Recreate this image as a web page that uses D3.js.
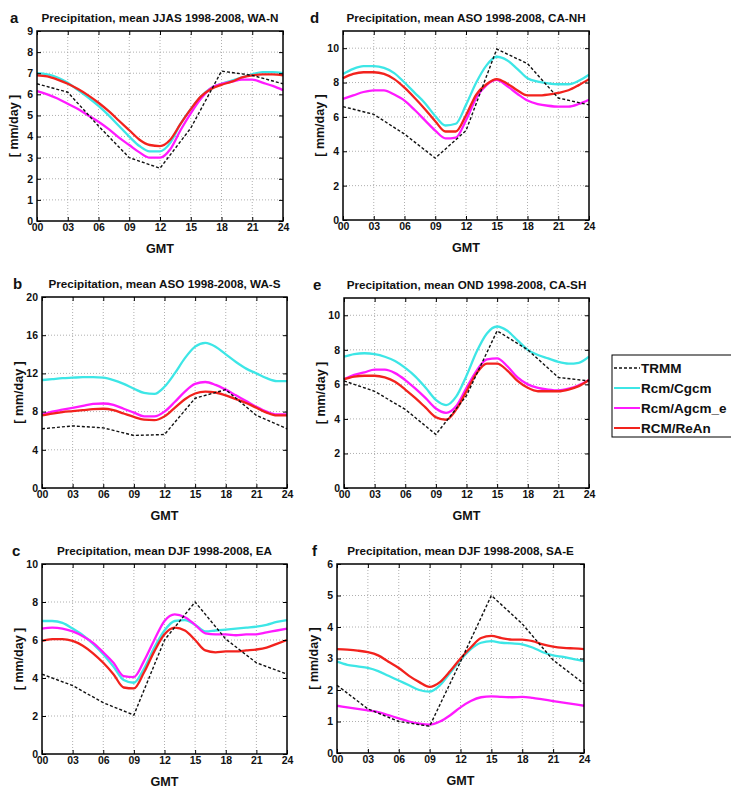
<!DOCTYPE html>
<html>
<head>
<meta charset="utf-8">
<script src="https://cdn.jsdelivr.net/npm/d3@7"></script>
<style>
	body { margin: 0; background: #fff; }
	text { font-family: "Liberation Sans", Arial, sans-serif; font-weight: bold; fill: #111; }
	.grid line { stroke: #9a9a9a; stroke-width: 0.8; stroke-dasharray: 1,2; }
	.axis path { display: none; }
	.axis line { stroke: #000; }
</style>
</head>
<body>
<svg id="chart"></svg>
<script>
// hours of the model output and of the 3-hourly TRMM
var hours = [0, 1, 2, 3, 4, 5, 6, 7, 8, 9, 10, 11, 12, 13, 14, 15, 16, 17, 18, 19, 20, 21, 22, 23, 24];
var trmmHours = [0, 3, 6, 9, 12, 15, 18, 21, 24];
var xTicks = [0, 3, 6, 9, 12, 15, 18, 21, 24];
var seriesNames = ["TRMM", "Rcm/Cgcm", "Rcm/Agcm_e", "RCM/ReAn"];

// a: JJAS, WA-N
var aTrmm = [6.5, 6.1, 4.5, 3.0, 2.5, 4.4, 7.1, 6.9, 6.5];
var aCgcm = [7.0, 6.95, 6.8, 6.55, 6.2, 5.85, 5.45, 5.0, 4.5, 4.0, 3.55, 3.3, 3.3, 3.7, 4.6, 5.3, 5.9, 6.3, 6.5, 6.65, 6.8, 6.95, 7.05, 7.05, 7.0];
var aAgcm = [6.15, 6.0, 5.8, 5.55, 5.3, 5.0, 4.7, 4.35, 3.95, 3.6, 3.25, 3.0, 3.0, 3.4, 4.3, 5.1, 5.8, 6.3, 6.5, 6.6, 6.7, 6.7, 6.55, 6.4, 6.2];
var aReAn = [6.9, 6.85, 6.7, 6.5, 6.25, 5.95, 5.6, 5.2, 4.75, 4.3, 3.85, 3.6, 3.55, 3.85, 4.6, 5.3, 5.9, 6.25, 6.45, 6.6, 6.8, 6.9, 6.95, 6.95, 6.9];

// b: ASO, WA-S
var bTrmm = [6.2, 6.5, 6.3, 5.5, 5.6, 9.4, 10.3, 7.6, 6.2];
var bCgcm = [11.3, 11.4, 11.5, 11.55, 11.6, 11.6, 11.55, 11.3, 10.9, 10.4, 9.95, 9.85, 10.6, 12.0, 13.6, 14.8, 15.2, 14.8, 14.0, 13.2, 12.5, 12.0, 11.5, 11.2, 11.2];
var bAgcm = [7.7, 8.0, 8.2, 8.4, 8.6, 8.8, 8.85, 8.7, 8.3, 7.9, 7.5, 7.5, 8.0, 9.0, 10.1, 10.9, 11.1, 10.8, 10.3, 9.7, 9.1, 8.5, 8.0, 7.7, 7.7];
var bReAn = [7.6, 7.8, 7.95, 8.05, 8.15, 8.25, 8.3, 8.15, 7.8, 7.45, 7.15, 7.1, 7.5, 8.4, 9.3, 9.9, 10.1, 10.0, 9.7, 9.3, 8.9, 8.4, 7.9, 7.6, 7.6];

// c: DJF, EA
var cTrmm = [4.2, 3.6, 2.7, 2.05, 6.0, 8.0, 6.05, 4.8, 4.2];
var cCgcm = [7.0, 7.0, 6.9, 6.6, 6.25, 5.8, 5.25, 4.6, 3.9, 3.75, 4.5, 5.6, 6.5, 7.0, 7.05, 6.8, 6.45, 6.5, 6.55, 6.6, 6.65, 6.7, 6.8, 6.95, 7.05];
var cAgcm = [6.6, 6.65, 6.6, 6.45, 6.2, 5.85, 5.35, 4.8, 4.1, 4.05, 4.9, 6.0, 7.0, 7.35, 7.2, 6.8, 6.35, 6.3, 6.3, 6.25, 6.3, 6.3, 6.4, 6.5, 6.6];
var cReAn = [5.95, 6.05, 6.05, 5.95, 5.7, 5.3, 4.8, 4.2, 3.5, 3.45, 4.3, 5.4, 6.3, 6.65, 6.5, 6.0, 5.45, 5.35, 5.4, 5.4, 5.45, 5.5, 5.6, 5.8, 6.0];

// d: ASO, CA-NH
var dTrmm = [6.6, 6.15, 5.0, 3.6, 5.2, 9.95, 9.1, 7.1, 6.7];
var dCgcm = [8.5, 8.8, 8.95, 8.95, 8.85, 8.55, 8.0, 7.4, 6.8, 6.05, 5.5, 5.6, 6.7, 8.0, 9.0, 9.5, 9.3, 8.8, 8.25, 8.05, 7.95, 7.9, 7.9, 8.1, 8.45];
var dAgcm = [7.05, 7.25, 7.45, 7.55, 7.55, 7.3, 6.95, 6.4, 5.8, 5.2, 4.75, 4.8, 5.8, 7.1, 7.85, 8.15, 7.8, 7.35, 6.95, 6.75, 6.65, 6.6, 6.6, 6.75, 7.0];
var dReAn = [8.25, 8.5, 8.6, 8.6, 8.5, 8.2, 7.7, 7.1, 6.45, 5.75, 5.15, 5.15, 6.1, 7.3, 7.9, 8.2, 7.95, 7.55, 7.25, 7.25, 7.3, 7.4, 7.55, 7.85, 8.2];

// e: OND, CA-SH
var eTrmm = [6.2, 5.6, 4.55, 3.1, 5.35, 9.1, 8.0, 6.4, 6.2];
var eCgcm = [7.6, 7.75, 7.8, 7.75, 7.6, 7.35, 6.95, 6.45, 5.8, 5.1, 4.8, 5.3, 6.5, 7.9, 8.95, 9.35, 9.1, 8.55, 8.0, 7.7, 7.5, 7.3, 7.2, 7.25, 7.6];
var eAgcm = [6.3, 6.55, 6.7, 6.85, 6.85, 6.65, 6.25, 5.75, 5.2, 4.6, 4.35, 4.75, 5.8, 6.8, 7.45, 7.5, 7.05, 6.4, 6.0, 5.8, 5.7, 5.65, 5.75, 5.95, 6.25];
var eReAn = [6.3, 6.45, 6.5, 6.5, 6.4, 6.15, 5.7, 5.2, 4.65, 4.1, 3.95, 4.55, 5.6, 6.65, 7.2, 7.2, 6.8, 6.2, 5.8, 5.6, 5.6, 5.6, 5.7, 5.9, 6.25];

// f: DJF, SA-E
var fTrmm = [2.15, 1.4, 1.0, 0.85, 2.9, 5.0, 4.1, 2.95, 2.2];
var fCgcm = [2.9, 2.8, 2.75, 2.7, 2.6, 2.45, 2.3, 2.15, 2.0, 1.95, 2.15, 2.55, 2.95, 3.3, 3.5, 3.55, 3.5, 3.48, 3.45, 3.35, 3.2, 3.1, 3.05, 2.98, 2.92];
var fAgcm = [1.5, 1.45, 1.4, 1.35, 1.3, 1.2, 1.1, 1.0, 0.93, 0.9, 1.0, 1.2, 1.45, 1.65, 1.77, 1.8, 1.78, 1.77, 1.78, 1.75, 1.7, 1.65, 1.6, 1.55, 1.5];
var fReAn = [3.3, 3.28, 3.25, 3.2, 3.1, 2.9, 2.7, 2.45, 2.25, 2.1, 2.25, 2.6, 3.0, 3.35, 3.65, 3.72, 3.65, 3.6, 3.6, 3.55, 3.45, 3.38, 3.34, 3.32, 3.3];

var colors = {"TRMM": "#111", "Rcm/Cgcm": "#3de6e6", "Rcm/Agcm_e": "#ff1aff", "RCM/ReAn": "#f2221d"};

// panel layout: plot box in page pixels, lx = x of the panel letter
var panels = [
	{letter: "a", lx: 10, title: "Precipitation, mean JJAS 1998-2008, WA-N", box: {l: 37, t: 31, r: 283, b: 221}, yMax: 9, yTicks: [0, 1, 2, 3, 4, 5, 6, 7, 8, 9], trmm: aTrmm, models: [aCgcm, aAgcm, aReAn]},
	{letter: "b", lx: 13, title: "Precipitation, mean ASO 1998-2008, WA-S", box: {l: 42, t: 297, r: 287, b: 488}, yMax: 20, yTicks: [0, 4, 8, 12, 16, 20], trmm: bTrmm, models: [bCgcm, bAgcm, bReAn]},
	{letter: "c", lx: 12, title: "Precipitation, mean DJF 1998-2008, EA", box: {l: 42, t: 564, r: 287, b: 754}, yMax: 10, yTicks: [0, 2, 4, 6, 8, 10], trmm: cTrmm, models: [cCgcm, cAgcm, cReAn]},
	{letter: "d", lx: 310, title: "Precipitation, mean ASO 1998-2008, CA-NH", box: {l: 343, t: 31, r: 589, b: 220}, yMax: 11, yTicks: [0, 2, 4, 6, 8, 10], trmm: dTrmm, models: [dCgcm, dAgcm, dReAn]},
	{letter: "e", lx: 313, title: "Precipitation, mean OND 1998-2008, CA-SH", box: {l: 344, t: 298, r: 589, b: 488}, yMax: 11, yTicks: [0, 2, 4, 6, 8, 10], trmm: eTrmm, models: [eCgcm, eAgcm, eReAn]},
	{letter: "f", lx: 312, title: "Precipitation, mean DJF 1998-2008, SA-E", box: {l: 337, t: 564, r: 584, b: 753}, yMax: 6, yTicks: [0, 1, 2, 3, 4, 5, 6], trmm: fTrmm, models: [fCgcm, fAgcm, fReAn]}
];

var svg = d3.select("svg#chart")
		.attr("width", 731)
		.attr("height", 789);

function drawPanel(p) {
	var box = p.box;
	var x = d3.scaleLinear().domain([0, 24]).range([box.l, box.r]);
	var y = d3.scaleLinear().domain([0, p.yMax]).range([box.b, box.t]);
	var g = svg.append("g").attr("class", "panel-" + p.letter);

	// dotted grid
	var grid = g.append("g").attr("class", "grid");
	grid.selectAll(".gx")
			.data(xTicks.slice(1, -1))
			.enter().append("line")
			.attr("x1", function (d) { return x(d); })
			.attr("x2", function (d) { return x(d); })
			.attr("y1", box.t)
			.attr("y2", box.b);
	grid.selectAll(".gy")
			.data(p.yTicks.filter(function (d) { return d > 0 && d < p.yMax; }))
			.enter().append("line")
			.attr("x1", box.l)
			.attr("x2", box.r)
			.attr("y1", function (d) { return y(d); })
			.attr("y2", function (d) { return y(d); });

	// model curves
	var modelLine = d3.line()
			.x(function (d, i) { return x(hours[i]); })
			.y(function (d) { return y(d); })
			.curve(d3.curveMonotoneX);
	[0, 1, 2].forEach(function (k) {
		g.append("path")
				.attr("d", modelLine(p.models[k]))
				.attr("fill", "none")
				.attr("stroke", colors[seriesNames[k + 1]])
				.attr("stroke-width", 2.3)
				.attr("stroke-linejoin", "round");
	});

	var trmmLine = d3.line()
			.x(function (d, i) { return x(trmmHours[i]); })
			.y(function (d) { return y(d); });
	g.append("path")
			.attr("d", trmmLine(p.trmm))
			.attr("fill", "none")
			.attr("stroke", colors["TRMM"])
			.attr("stroke-width", 1.4)
			.attr("stroke-dasharray", "3,2");

	// axes, ticks inward (matlab style)
	var xAxis = d3.axisBottom(x).tickValues(xTicks).tickFormat(d3.format("02d"))
			.tickSizeInner(-4).tickSizeOuter(0).tickPadding(3);
	var gx = g.append("g").attr("class", "axis")
			.attr("transform", "translate(0," + box.b + ")")
			.call(xAxis);
	gx.selectAll("text").style("font-size", "10.5px").attr("fill", "#111");

	g.append("g").attr("class", "axis")
			.attr("transform", "translate(0," + box.t + ")")
			.call(d3.axisTop(x).tickValues(xTicks).tickSizeInner(-4).tickSizeOuter(0).tickFormat(""));

	var yAxis = d3.axisLeft(y).tickValues(p.yTicks).tickFormat(d3.format("d"))
			.tickSizeInner(-4).tickSizeOuter(0).tickPadding(4);
	var gy = g.append("g").attr("class", "axis")
			.attr("transform", "translate(" + box.l + ",0)")
			.call(yAxis);
	gy.selectAll("text").style("font-size", "10.5px").attr("fill", "#111");

	g.append("g").attr("class", "axis")
			.attr("transform", "translate(" + box.r + ",0)")
			.call(d3.axisRight(y).tickValues(p.yTicks).tickSizeInner(-4).tickSizeOuter(0).tickFormat(""));

	g.append("rect")
			.attr("x", box.l)
			.attr("y", box.t)
			.attr("width", box.r - box.l)
			.attr("height", box.b - box.t)
			.attr("fill", "none")
			.attr("stroke", "#000")
			.attr("stroke-width", 1.5);

	// titles and labels
	g.append("text")
			.attr("x", (box.l + box.r) / 2)
			.attr("y", box.t - 9)
			.attr("text-anchor", "middle")
			.style("font-size", "11.7px")
			.text(p.title);
	g.append("text")
			.attr("x", p.lx)
			.attr("y", box.t - 8)
			.style("font-size", "15px")
			.text(p.letter);
	g.append("text")
			.attr("x", (box.l + box.r) / 2)
			.attr("y", box.b + 32)
			.attr("text-anchor", "middle")
			.style("font-size", "12.6px")
			.text("GMT");
	g.append("text")
			.attr("transform", "translate(" + (box.l - 19) + "," + ((box.t + box.b) / 2) + ")rotate(-90)")
			.attr("text-anchor", "middle")
			.style("font-size", "12.5px")
			.text("[ mm/day ]");
}

panels.forEach(drawPanel);

// legend
var legend = svg.append("g").attr("class", "legend").attr("transform", "translate(612,355)");
legend.append("rect")
		.attr("width", 132)
		.attr("height", 82)
		.attr("fill", "#fff")
		.attr("stroke", "#000")
		.attr("stroke-width", 1);
legend.selectAll(".leg-line")
		.data(seriesNames)
		.enter().append("line")
		.attr("x1", 2)
		.attr("x2", 28)
		.attr("y1", function (d, i) { return 13 + i * 20; })
		.attr("y2", function (d, i) { return 13 + i * 20; })
		.attr("stroke", function (d) { return colors[d]; })
		.attr("stroke-width", function (d, i) { return i === 0 ? 1.4 : 2; })
		.attr("stroke-dasharray", function (d, i) { return i === 0 ? "3,2" : null; });
legend.selectAll(".leg-text")
		.data(seriesNames)
		.enter().append("text")
		.attr("x", 29)
		.attr("y", function (d, i) { return 18 + i * 20; })
		.style("font-size", "13.5px")
		.text(function (d) { return d; });
</script>
</body>
</html>
